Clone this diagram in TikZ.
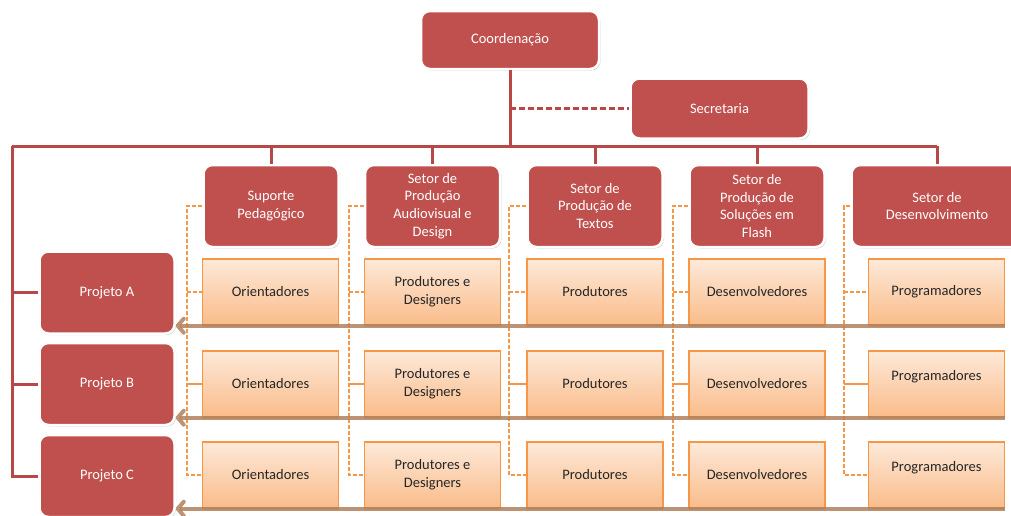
\documentclass[tikz,border=0pt]{standalone}
\usepackage{fontspec}
\setmainfont{Carlito}
\usepackage{tikz}
\usetikzlibrary{arrows.meta}
\usetikzlibrary{shadows}

\definecolor{boxred}{RGB}{192,80,77}
\definecolor{linered}{RGB}{184,72,72}
\definecolor{orangeline}{RGB}{247,150,70}
\definecolor{orangetop}{RGB}{253,233,217}
\definecolor{orangebot}{RGB}{250,188,138}
\definecolor{backarrow}{RGB}{176,128,92}

\begin{document}
\begin{tikzpicture}[x=1pt, y=-1pt,
	font=\fontsize{14.5}{17.7}\selectfont,
	chefe/.style={rectangle, rounded corners=9pt, fill=boxred, draw=white, line width=2.5pt,
			text=white, align=center, inner sep=0pt,
			drop shadow={shadow xshift=1.5pt, shadow yshift=-1.5pt, opacity=0.3}},
	setor/.style={minimum width=135pt, minimum height=82pt},
	equipe/.style={rectangle, top color=orangetop, bottom color=orangebot, draw=orangeline,
			line width=1.4pt, minimum width=136pt, minimum height=66pt, align=center,
			text=black!85, inner sep=0pt,
			drop shadow={shadow xshift=0pt, shadow yshift=-1.5pt, opacity=0.35}},
	ramo/.style={draw=linered, line width=3pt},
	pontilhado/.style={draw=orangeline, line width=1.4pt, dash pattern=on 4pt off 2pt},
	retorno/.style={draw=backarrow, draw opacity=0.85, line width=4pt,
			-{Straight Barb[length=6pt, width=14pt, round]}}]
	\useasboundingbox (0,0) rectangle (1011,515);

	% top of the chart
	\node[chefe, minimum width=178pt, minimum height=58pt] (coord) at (510,40) {Coordenação};
	\node[chefe, minimum width=178pt, minimum height=60pt] (secretaria) at (719.5,108.5) {Secretaria};

	% sectors
	\node[chefe, setor] (setor1) at (271,206) {Suporte\\Pedagógico};
	\node[chefe, setor] (setor2) at (432.5,206) {Setor de\\Produção\\Audiovisual e\\Design};
	\node[chefe, setor] (setor3) at (595,206) {Setor de\\Produção de\\Textos};
	\node[chefe, setor] (setor4) at (757,206) {Setor de\\Produção de\\Soluções em\\Flash};
	\node[chefe, setor, minimum width=171pt] (setor5) at (937,206) {Setor de\\Desenvolvimento};

	% projects
	\node[chefe, setor] (projA) at (107,292.5) {Projeto A};
	\node[chefe, setor] (projB) at (107,384) {Projeto B};
	\node[chefe, setor] (projC) at (107,476) {Projeto C};

	% teams
	\foreach \r/\y/\extra in {A/292/{}, B/384/{\\\mbox{}}, C/475/{\\\mbox{}}}{
		\node[equipe] (orient-\r) at (270.5,\y) {Orientadores};
		\node[equipe] (prod-\r) at (432.5,\y) {Produtores e\\Designers};
		\node[equipe] (text-\r) at (595,\y) {Produtores};
		\node[equipe] (flash-\r) at (757,\y) {Desenvolvedores};
		\node[equipe] (prog-\r) at (936.5,\y) {Programadores\extra};
	}

	% hierarchy
	\coordinate (bus) at (510,146);
	\coordinate (canto) at (12,146);
	\draw[ramo] (coord.south) -- (bus);
	\draw[ramo, dash pattern=on 6pt off 3pt] (coord.south |- secretaria.west) -- (secretaria.west);
	\draw[ramo] (canto) -- (bus -| setor5.north);
	\foreach \i in {1,...,5}
		\draw[ramo] (bus -| setor\i.north) -- (setor\i.north);
	\draw[ramo] (canto) |- (projC.west);
	\draw[ramo] (canto |- projA.west) -- (projA.west);
	\draw[ramo] (canto |- projB.west) -- (projB.west);

	% sector to team
	\foreach \s/\c/\x in {1/orient/187, 2/prod/349, 3/text/509, 4/flash/673, 5/prog/844}{
		\draw[pontilhado] (setor\s.west) -- (\x,206) |- (\c-C.west);
		\draw[pontilhado] (\x,292) -- (\c-A.west);
		\draw[draw=orangeline, line width=1.6pt] (\x,384) -- (\c-B.west);
	}

	% back to the projects
	\foreach \r in {A,B,C}
		\draw[retorno] (prog-\r.south east) -- (proj\r.east |- prog-\r.south);
\end{tikzpicture}
\end{document}
